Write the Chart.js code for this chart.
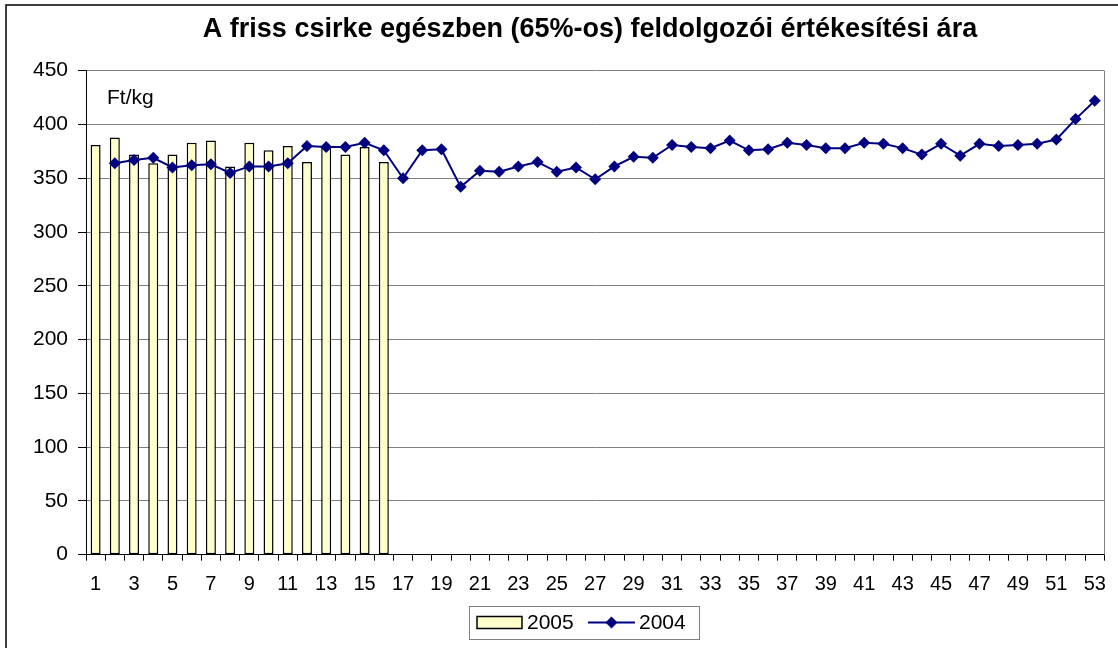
<!DOCTYPE html>
<html>
<head>
<meta charset="utf-8">
<script src="https://cdn.jsdelivr.net/npm/chart.js@4.4.1/dist/chart.umd.min.js"></script>
<style>
  html, body { margin: 0; padding: 0; background: #fff; }
  #wrap { width: 1118px; height: 648px; }
</style>
</head>
<body>
<div id="wrap"><canvas id="chart"></canvas></div>
<script>
// weeks 1..53
const weeks = Array.from({ length: 53 }, (_, i) => String(i + 1));

// 2005 (bars), only the first 16 weeks
const price2005 = [381, 388, 372, 364, 372, 383, 385, 361, 383, 376, 380, 365, 379, 372, 379, 365];

// 2004 (line), week 1 missing
const price2004 = [
  null, 364, 367, 369, 360, 362, 363, 355, 361, 361,
  364, 380, 379, 379, 383, 376, 350, 376, 377, 342,
  357, 356, 361, 365, 356, 360, 349, 361, 370, 369,
  381, 379, 378, 385, 376, 377, 383, 381, 378, 378,
  383, 382, 378, 372, 382, 371, 382, 380, 381, 382,
  386, 405, 422
];

const yTicks = { min: 0, max: 450, step: 50 };

const TITLE = "A friss csirke egészben (65%-os) feldolgozói értékesítési ára";
const FONT = "'Liberation Sans', Arial, sans-serif";

// title, frame, plot border, unit label and legend drawn by hand
const extras = {
  id: "extras",
  afterDraw(chart) {
    const ctx = chart.ctx;
    const a = chart.chartArea;
    ctx.save();
    // title
    ctx.fillStyle = "#000";
    ctx.font = "bold 27px " + FONT;
    ctx.textAlign = "center";
    ctx.textBaseline = "middle";
    ctx.fillText(TITLE, 590, 30);

    // right border of the plot area
    ctx.strokeStyle = "#808080";
    ctx.lineWidth = 1;
    ctx.beginPath();
    ctx.moveTo(Math.round(a.right) + 0.5, a.top);
    ctx.lineTo(Math.round(a.right) + 0.5, a.bottom);
    ctx.stroke();

    // outer frame
    ctx.strokeStyle = "#000";
    ctx.lineWidth = 1.5;
    ctx.strokeRect(6, 5, 1300, 800);

    // unit
    ctx.fillStyle = "#000";
    ctx.font = "21px " + FONT;
    ctx.textBaseline = "alphabetic";
    ctx.textAlign = "left";
    ctx.fillText("Ft/kg", 107, 104);

    // legend
    const lx = 469, ly = 606, lw = 230, lh = 33;
    ctx.fillStyle = "#fff";
    ctx.fillRect(lx, ly, lw, lh);
    ctx.strokeStyle = "#808080";
    ctx.lineWidth = 1;
    ctx.strokeRect(lx + 0.5, ly + 0.5, lw, lh);
    const cy = ly + lh / 2;
    ctx.fillStyle = "#FFFFCC";
    ctx.fillRect(477, cy - 6, 45, 12);
    ctx.strokeStyle = "#000";
    ctx.lineWidth = 1.5;
    ctx.strokeRect(477, cy - 6, 45, 12);
    ctx.fillStyle = "#000";
    ctx.textBaseline = "middle";
    ctx.fillText("2005", 527, cy + 1);
    ctx.strokeStyle = "#000080";
    ctx.lineWidth = 2;
    ctx.beginPath();
    ctx.moveTo(588, cy);
    ctx.lineTo(635, cy);
    ctx.stroke();
    ctx.fillStyle = "#000080";
    ctx.beginPath();
    ctx.moveTo(611.5 - 6, cy);
    ctx.lineTo(611.5, cy - 6);
    ctx.lineTo(611.5 + 6, cy);
    ctx.lineTo(611.5, cy + 6);
    ctx.closePath();
    ctx.fill();
    ctx.fillStyle = "#000";
    ctx.fillText("2004", 639, cy + 1);
    ctx.restore();
  }
};

const config = {
  type: "bar",
  data: {
    labels: weeks,
    datasets: [
      {
        type: "line",
        label: "2004",
        data: price2004,
        order: 0,
        borderColor: "#000080",
        backgroundColor: "#000080",
        borderWidth: 2,
        pointStyle: "rectRot",
        pointRadius: 6,
        pointBorderWidth: 0,
        pointBackgroundColor: "#000080",
        tension: 0,
        spanGaps: false,
      },
      {
        type: "bar",
        label: "2005",
        data: price2005,
        order: 1,
        backgroundColor: "#FFFFCC",
        borderColor: "#000",
        borderWidth: 1.5,
        borderSkipped: false,
        barPercentage: 0.52,
        categoryPercentage: 1,
      },
    ],
  },
  options: {
    responsive: true,
    maintainAspectRatio: false,
    animation: false,
    layout: { padding: { left: 0, right: 11, top: 70.7, bottom: 0 } },
    plugins: {
      legend: { display: false },
      tooltip: { enabled: false },
      title: { display: false },
    },
    scales: {
      x: {
        offset: true,
        grid: {
          offset: true,
          drawOnChartArea: false,
          tickLength: 6,
          tickColor: "#000",
        },
        border: { color: "#000", width: 1 },
        ticks: {
          autoSkip: false,
          maxRotation: 0,
          padding: 12,
          color: "#000",
          font: { family: FONT, size: 20 },
          callback: (v, i) => (i % 2 === 0 ? weeks[i] : ""),
        },
        afterFit: (s) => { s.height = 93.3; },
      },
      y: {
        min: yTicks.min,
        max: yTicks.max,
        grid: { color: "#808080", tickLength: 8, tickColor: "#000" },
        border: { color: "#000", width: 1 },
        ticks: {
          stepSize: yTicks.step,
          padding: 10,
          color: "#000",
          font: { family: FONT, size: 21 },
        },
        afterFit: (s) => { s.width = 86; },
      },
    },
  },
  plugins: [extras],
};

const ctx = document.getElementById("chart");
window.myChart = new Chart(ctx, config);
</script>
</body>
</html>
